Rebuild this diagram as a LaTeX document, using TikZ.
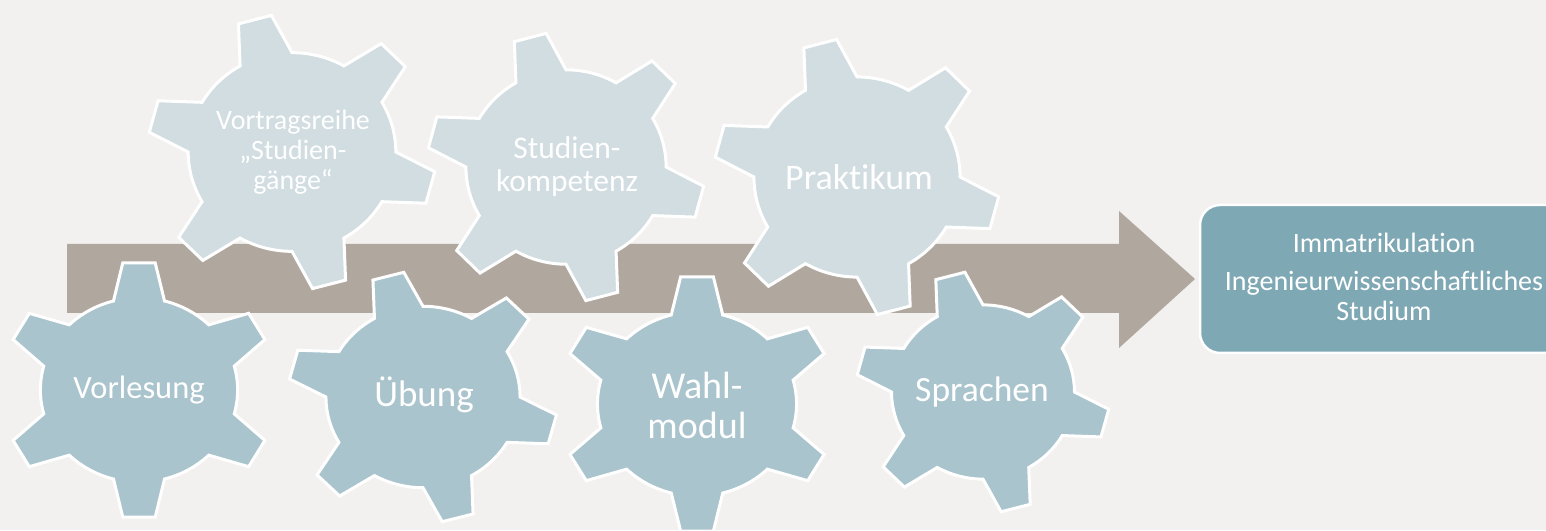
\documentclass[tikz,border=0pt]{standalone}
\usepackage{fontspec}
\setmainfont{Carlito}[Ligatures=NoCommon]
\definecolor{bgc}{HTML}{F2F1EF}
\definecolor{bandc}{HTML}{B0A89E}
\definecolor{topc}{HTML}{D1DDE1}
\definecolor{botc}{HTML}{A9C4CD}
\definecolor{boxc}{HTML}{7FA8B5}
% #1 style, #2 x, #3 y, #4 rotation, #5 outer radius, #6 horizontal stretch
\newcommand{\mygear}[6]{%
  \pgfmathsetmacro\gR{#5}%
  \pgfmathsetmacro\gb{0.72*#5}%
  \begin{scope}[shift={(#2,#3)}, xscale=#6]
    \draw[#1] ({#4-15}:\gb) \foreach \k in {0,...,5}{
      -- ({#4+60*\k-6.8}:\gR) -- ({#4+60*\k+6.8}:\gR) -- ({#4+60*\k+15}:\gb)
      arc[start angle={#4+60*\k+15}, end angle={#4+60*\k+45}, radius=\gb pt]} -- cycle;
  \end{scope}}
\tikzset{
  topgear/.style={fill=topc, draw=white, line width=3pt, line join=miter},
  botgear/.style={fill=botc, draw=white, line width=3pt, line join=miter},
  geartext/.style={text=white, align=center, inner sep=0pt},
  band/.style={fill=bandc, draw=none},
  goalbox/.style={fill=boxc, draw=white, line width=2.5pt, rounded corners=20pt,
    minimum width=366pt, minimum height=148pt, inner sep=0pt},
}
\begin{document}
\begin{tikzpicture}[x=1pt, y=1pt]
\useasboundingbox (0,0) rectangle (1546,530);
\clip (0,0) rectangle (1546,530);
\fill[bgc] (0,0) rectangle (1546,530);
% big arrow band
\path[band] (67,286) -- (1119,286) -- (1119,319) -- (1195,251) -- (1119,182) -- (1119,217) -- (67,217) -- cycle;
% top gears
\mygear{topgear}{292}{378}{45}{138}{1.045}
\mygear{topgear}{566}{363}{45}{135}{1.03}
\mygear{topgear}{857}{353}{45}{139}{1.03}
% bottom gears
\mygear{botgear}{139}{140}{30}{128}{1.07}
\mygear{botgear}{423}{133}{45}{126}{1.07}
\mygear{botgear}{697}{126}{30}{128}{1.08}
\mygear{botgear}{983}{138}{45}{121}{1.05}
% texts
\node[geartext, font=\fontsize{28}{30}\selectfont] (vortrag) at (293,378) {Vortragsreihe\\„Studien-\\gänge“};
\node[geartext, font=\fontsize{31.5}{33}\selectfont] (kompetenz) at (567,363) {Studien-\\kompetenz};
\node[geartext, font=\fontsize{36}{38}\selectfont] (praktikum) at (859,353) {Praktikum};
\node[geartext, font=\fontsize{32.5}{34}\selectfont] (vorlesung) at (139,140) {Vorlesung};
\node[geartext, font=\fontsize{37}{38}\selectfont] (uebung) at (424,135) {Übung};
\node[geartext, font=\fontsize{38}{40}\selectfont] (wahl) at (697,125) {Wahl-\\modul};
\node[geartext, font=\fontsize{35.5}{38}\selectfont] (sprachen) at (982,138) {Sprachen};
% goal box
\node[goalbox] (goal) at (1383,251) {};
\node[text=white, align=center, font=\fontsize{28}{30}\selectfont] (goaltext) at (1384,253)
  {Immatrikulation\\[8pt]Ingenieurwissenschaftliches\\Studium};
\end{tikzpicture}
\end{document}
